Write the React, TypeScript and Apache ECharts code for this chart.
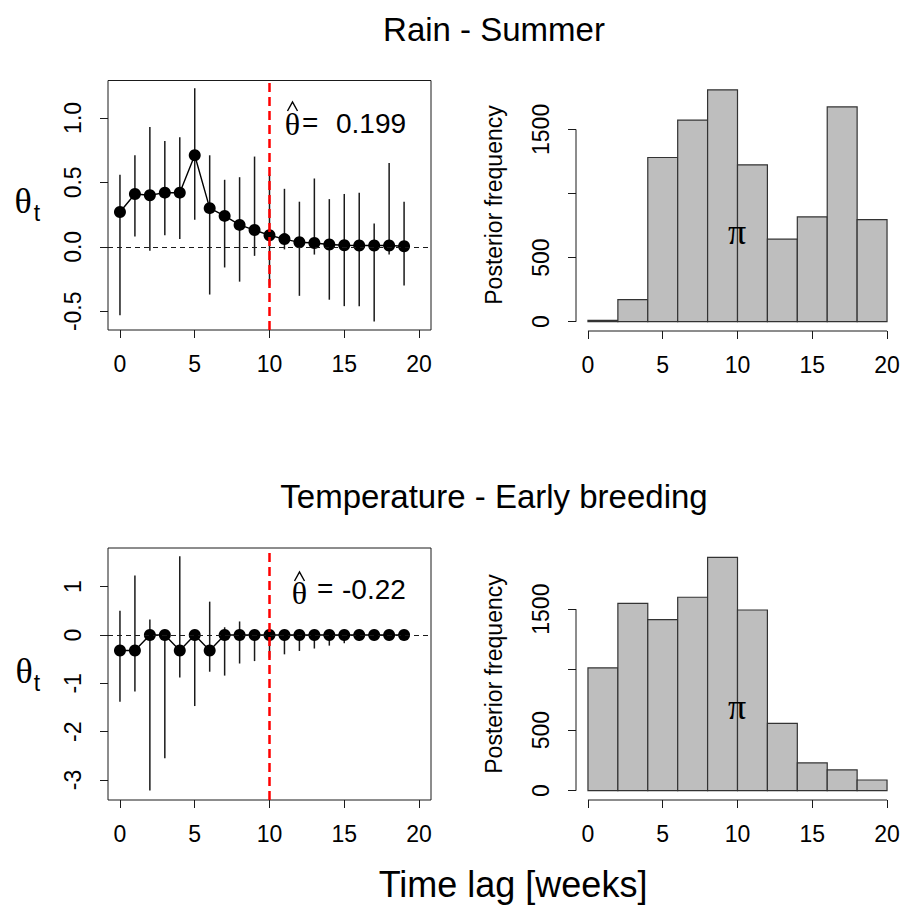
import React, { useEffect, useRef } from "react";
import * as echarts from "echarts";

const lags = [0, 1, 2, 3, 4, 5, 6, 7, 8, 9, 10, 11, 12, 13, 14, 15, 16, 17, 18, 19];
const rainTheta = [0.27, 0.41, 0.4, 0.42, 0.42, 0.71, 0.3, 0.24, 0.17, 0.13, 0.09, 0.06, 0.035, 0.03, 0.018, 0.012, 0.01, 0.01, 0.01, 0.005];
const rainLo = [-0.53, 0.08, -0.03, 0.09, 0.06, 0.21, -0.37, -0.16, -0.27, -0.07, -0.3, -0.02, -0.38, -0.06, -0.41, -0.46, -0.46, -0.58, -0.06, -0.3];
const rainHi = [0.56, 0.71, 0.93, 0.82, 0.85, 1.23, 0.71, 0.52, 0.54, 0.7, 0.56, 0.45, 0.35, 0.53, 0.37, 0.41, 0.42, 0.18, 0.65, 0.35];

const tempTheta = [-0.32, -0.32, 0, 0, -0.32, 0, -0.32, 0, 0, 0, 0, 0, 0, 0, 0, 0, 0, 0, 0, 0];
const tempLo = [-1.38, -1.17, -3.22, -2.55, -0.88, -1.47, -0.76, -0.84, -0.59, -0.54, -0.47, -0.4, -0.33, -0.28, -0.22, -0.17, -0.12, -0.1, -0.08, -0.07];
const tempHi = [0.5, 1.23, 0.32, 0.0, 1.63, 0.0, 0.69, 0.16, 0.28, 0.02, 0.02, 0.02, 0.02, 0.02, 0.02, 0.02, 0.02, 0.02, 0.02, 0.02];

const binStarts = [0, 2, 4, 6, 8, 10, 12, 14, 16, 18];
const binWidth = 2;
const rainCounts = [10, 172, 1281, 1572, 1809, 1224, 644, 817, 1675, 796];
const tempCounts = [1014, 1548, 1413, 1598, 1928, 1493, 556, 229, 171, 88];

const xTicks = [0, 5, 10, 15, 20];
const rainYTicks = [-0.5, 0, 0.5, 1];
const tempYTicks = [-3, -2, -1, 0, 1];
const histYTicks = [0, 500, 1000, 1500];
const histYLabels = [0, 500, 1500];
const cutoffLag = 10;
const rainEstimate = "0.199";
const tempEstimate = "-0.22";
const rainTitle = "Rain - Summer";
const tempTitle = "Temperature - Early breeding";
const xTitle = "Time lag [weeks]";
const histYTitle = "Posterior frequency";

const SANS = "Liberation Sans, Arial, sans-serif";
const SERIF = "Liberation Serif, Times New Roman, serif";
const INK = "#1a1a1a";

const GRIDS = [
  { left: 108, top: 80.5, width: 323, height: 249.5 },
  { left: 576, top: 80.5, width: 323, height: 250.5 },
  { left: 108, top: 548, width: 323, height: 252 },
  { left: 576, top: 548, width: 323, height: 252 },
];

function xAxisFor(gridIndex: number) {
  return {
    type: "value",
    gridIndex,
    position: "bottom",
    min: -0.8,
    max: 20.8,
    axisLine: { show: false, onZero: false },
    splitLine: { show: false },
    axisTick: { show: true, inside: false, customValues: xTicks, length: 8, lineStyle: { color: INK, width: 1 } },
    axisLabel: { customValues: xTicks, fontSize: 23, color: "#000", fontFamily: SANS, margin: 22 },
  };
}

function yAxisFor(gridIndex: number, min: number, max: number, ticks: number[], labels: number[], fmt: (v: number) => string) {
  return {
    type: "value",
    gridIndex,
    position: "left",
    min,
    max,
    axisLine: { show: false, onZero: false },
    splitLine: { show: false },
    axisTick: { show: true, inside: false, customValues: ticks, length: 8, lineStyle: { color: INK, width: 1 } },
    axisLabel: {
      customValues: labels,
      rotate: 90,
      fontSize: 23,
      color: "#000",
      fontFamily: SANS,
      margin: 24,
      formatter: (v: number) => fmt(v),
    },
  };
}

const errRender = (params: any, api: any) => {
  const p1 = api.coord([api.value(0), api.value(1)]);
  const p2 = api.coord([api.value(0), api.value(2)]);
  return {
    type: "line",
    shape: { x1: p1[0], y1: p1[1], x2: p2[0], y2: p2[1] },
    style: { stroke: INK, lineWidth: 1.5 },
  };
};

const histRender = (params: any, api: any) => {
  const a = api.coord([api.value(0), 0]);
  const b = api.coord([api.value(1), api.value(2)]);
  return {
    type: "rect",
    shape: { x: a[0], y: b[1], width: b[0] - a[0], height: a[1] - b[1] },
    style: { fill: "#BEBEBE", stroke: "#333", lineWidth: 1.2 },
  };
};

function lagSeries(idx: number, theta: number[], lo: number[], hi: number[]) {
  return [
    {
      type: "custom",
      xAxisIndex: idx,
      yAxisIndex: idx,
      renderItem: errRender,
      encode: { x: 0, y: [1, 2] },
      data: lags.map((l, i) => [l, lo[i], hi[i]]),
      z: 2,
      markLine: {
        silent: true,
        symbol: "none",
        label: { show: false },
        lineStyle: { color: INK, width: 1.2, type: [5, 4] },
        data: [{ yAxis: 0 }],
      },
    },
    {
      type: "line",
      xAxisIndex: idx,
      yAxisIndex: idx,
      data: lags.map((l, i) => [l, theta[i]]),
      symbol: "circle",
      symbolSize: 12,
      itemStyle: { color: "#000" },
      lineStyle: { color: "#000", width: 1.4 },
      z: 3,
    },
    {
      type: "line",
      xAxisIndex: idx,
      yAxisIndex: idx,
      data: [],
      z: 5,
      markLine: {
        silent: true,
        symbol: "none",
        label: { show: false },
        lineStyle: { color: "#ff0000", width: 2.5, type: [9, 5] },
        data: [{ xAxis: cutoffLag }],
      },
    },
  ];
}

function histSeries(idx: number, counts: number[], yMin: number) {
  const last = binStarts[binStarts.length - 1] + binWidth;
  return [
    {
      type: "custom",
      xAxisIndex: idx,
      yAxisIndex: idx,
      renderItem: histRender,
      encode: { x: [0, 1], y: 2 },
      data: binStarts.map((s, i) => [s, s + binWidth, counts[i]]),
      z: 2,
    },
    {
      type: "line",
      xAxisIndex: idx,
      yAxisIndex: idx,
      data: [[binStarts[0], yMin], [last, yMin]],
      symbol: "none",
      clip: false,
      lineStyle: { color: INK, width: 1 },
      z: 3,
    },
    {
      type: "line",
      xAxisIndex: idx,
      yAxisIndex: idx,
      data: [[-0.8, histYTicks[0]], [-0.8, histYTicks[histYTicks.length - 1]]],
      symbol: "none",
      clip: false,
      lineStyle: { color: INK, width: 1 },
      z: 3,
    },
  ];
}

function txt(x: number, y: number, text: string, size: number, font: string, extra: any = {}) {
  return {
    type: "text",
    x,
    y,
    rotation: extra.rotation || 0,
    style: {
      text,
      fontSize: size,
      fontFamily: font,
      fill: "#000",
      align: extra.align || "center",
      verticalAlign: "middle",
    },
    z: 10,
  };
}

function hat(cx: number, yTop: number) {
  return {
    type: "polyline",
    shape: { points: [[cx - 5, yTop + 9], [cx, yTop], [cx + 5, yTop + 9]] },
    style: { stroke: "#000", lineWidth: 1.4, fill: null },
    z: 10,
  };
}

export default function App() {
  const ref = useRef<HTMLDivElement>(null);
  useEffect(() => {
    if (!ref.current) return;
    const chart = echarts.init(ref.current, undefined, { renderer: "svg" });
    const rainMax = Math.max(...rainCounts);
    const tempMax = Math.max(...tempCounts);
    const rMin = -0.04 * rainMax;
    const tMin = -0.04 * tempMax;
    const f1 = (v: number) => v.toFixed(1);
    const f0 = (v: number) => String(v);
    const option: any = {
      animation: false,
      backgroundColor: "#fff",
      grid: GRIDS.map((g, i) => ({
        ...g,
        show: i === 0 || i === 2,
        borderColor: INK,
        borderWidth: 1,
        backgroundColor: "transparent",
        containLabel: false,
      })),
      xAxis: [xAxisFor(0), xAxisFor(1), xAxisFor(2), xAxisFor(3)],
      yAxis: [
        yAxisFor(0, -0.645, 1.29, rainYTicks, rainYTicks, f1),
        yAxisFor(1, rMin, 1.04 * rainMax, histYTicks, histYLabels, f0),
        yAxisFor(2, -3.414, 1.8, tempYTicks, tempYTicks, f0),
        yAxisFor(3, tMin, 1.04 * tempMax, histYTicks, histYLabels, f0),
      ],
      series: [
        ...lagSeries(0, rainTheta, rainLo, rainHi),
        ...histSeries(1, rainCounts, rMin),
        ...lagSeries(2, tempTheta, tempLo, tempHi),
        ...histSeries(3, tempCounts, tMin),
      ],
      graphic: [
        txt(494, 29, rainTitle, 33, SANS),
        txt(494, 496, tempTitle, 33, SANS),
        txt(513, 884, xTitle, 36, SANS),
        txt(494, 205, histYTitle, 23, SANS, { rotation: Math.PI / 2 }),
        txt(494, 674, histYTitle, 23, SANS, { rotation: Math.PI / 2 }),
        txt(23, 201, "θ", 36, SERIF),
        txt(37, 213, "t", 23, SANS),
        txt(24, 671, "θ", 36, SERIF),
        txt(37, 683, "t", 23, SANS),
        hat(292.5, 102),
        txt(292.5, 124, "θ", 32, SERIF),
        txt(302, 122, "=", 28, SANS, { align: "left" }),
        txt(336, 123, rainEstimate, 28, SANS, { align: "left" }),
        hat(299.5, 572),
        txt(299.5, 593, "θ", 32, SERIF),
        txt(317, 588, "=", 28, SANS, { align: "left" }),
        txt(342, 589.5, tempEstimate, 28, SANS, { align: "left" }),
        txt(737, 232, "π", 36, SERIF),
        txt(737, 707, "π", 36, SERIF),
      ],
    };
    chart.setOption(option);
    return () => chart.dispose();
  }, []);
  return (
    <div
      ref={ref}
      style={{ position: "fixed", left: 0, top: 0, width: 903, height: 909, background: "#fff" }}
    />
  );
}
